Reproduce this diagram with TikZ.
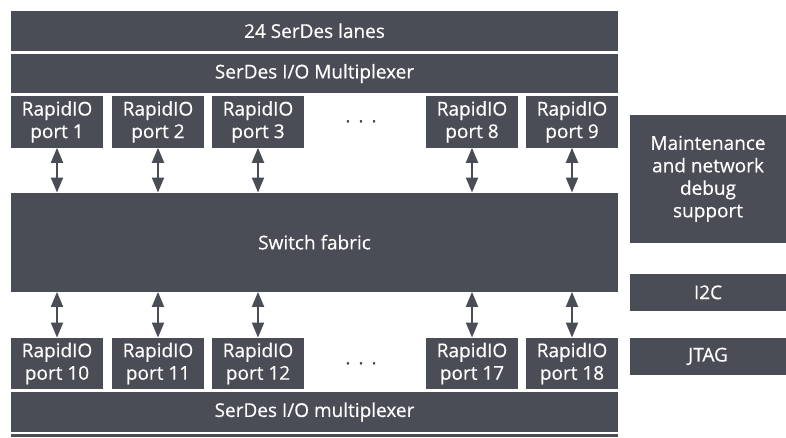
\documentclass[tikz,border=0pt]{standalone}
\usepackage{fontspec}
\setsansfont[FakeBold=0.5]{Open Sans}
\usetikzlibrary{arrows.meta}
\definecolor{slate}{RGB}{74,77,85}

\begin{document}
\begin{tikzpicture}[x=1pt,y=-1pt,
	blk/.style={fill=slate, text=white, inner sep=0pt, align=center,
		font=\sffamily\fontsize{19}{22.5}\selectfont},
	bar/.style={blk, minimum width=607pt},
	port/.style={blk, minimum width=92pt, minimum height=51.5pt},
	side/.style={blk, minimum width=156pt},
	link/.style={{Triangle[length=15pt,width=12pt]}-{Triangle[length=15pt,width=12pt]},
		draw=slate, line width=2pt}]

\useasboundingbox[fill=white] (0,0) rectangle (786,437);

% bars
\node[bar, minimum height=39.5pt] (lanes) at (314.5,30.75) {24 SerDes lanes};
\node[bar, minimum height=39pt] (muxtop) at (314.5,73.5) {SerDes I/O Multiplexer};
\node[bar, minimum height=99pt] (fab) at (314.5,242.2) {Switch fabric};
\node[bar, minimum height=39.4pt] (muxbot) at (314.5,412) {SerDes I/O multiplexer};
\fill[slate] (11,434.3) rectangle (618,437);

% ports
\foreach \i/\x in {1/57,2/158,3/258,8/472,9/572}{
	\node[port] (p\i) at (\x,121.85) {RapidIO\\port \i};
	\draw[link] (p\i.south) -- (p\i.south |- fab.north);
}
\foreach \i/\x in {10/57,11/158,12/258,17/472,18/572}{
	\node[port] (p\i) at (\x,363.5) {RapidIO\\port \i};
	\draw[link] (p\i.north) -- (p\i.north |- fab.south);
}

\node[blk, fill=none, text=slate] (dtop) at (361,124) {·\hspace{8pt}·\hspace{8pt}·};
\node[blk, fill=none, text=slate] (dbot) at (361,366) {·\hspace{8pt}·\hspace{8pt}·};

% side blocks
\node[side, minimum height=127.7pt] (maint) at (708,178.85) {Maintenance\\and network\\debug\\support};
\node[side, minimum height=36.7pt] (i2c) at (708,292.35) {I2C};
\node[side, minimum height=36.7pt] (jtag) at (708,356.35) {JTAG};

\end{tikzpicture}
\end{document}
